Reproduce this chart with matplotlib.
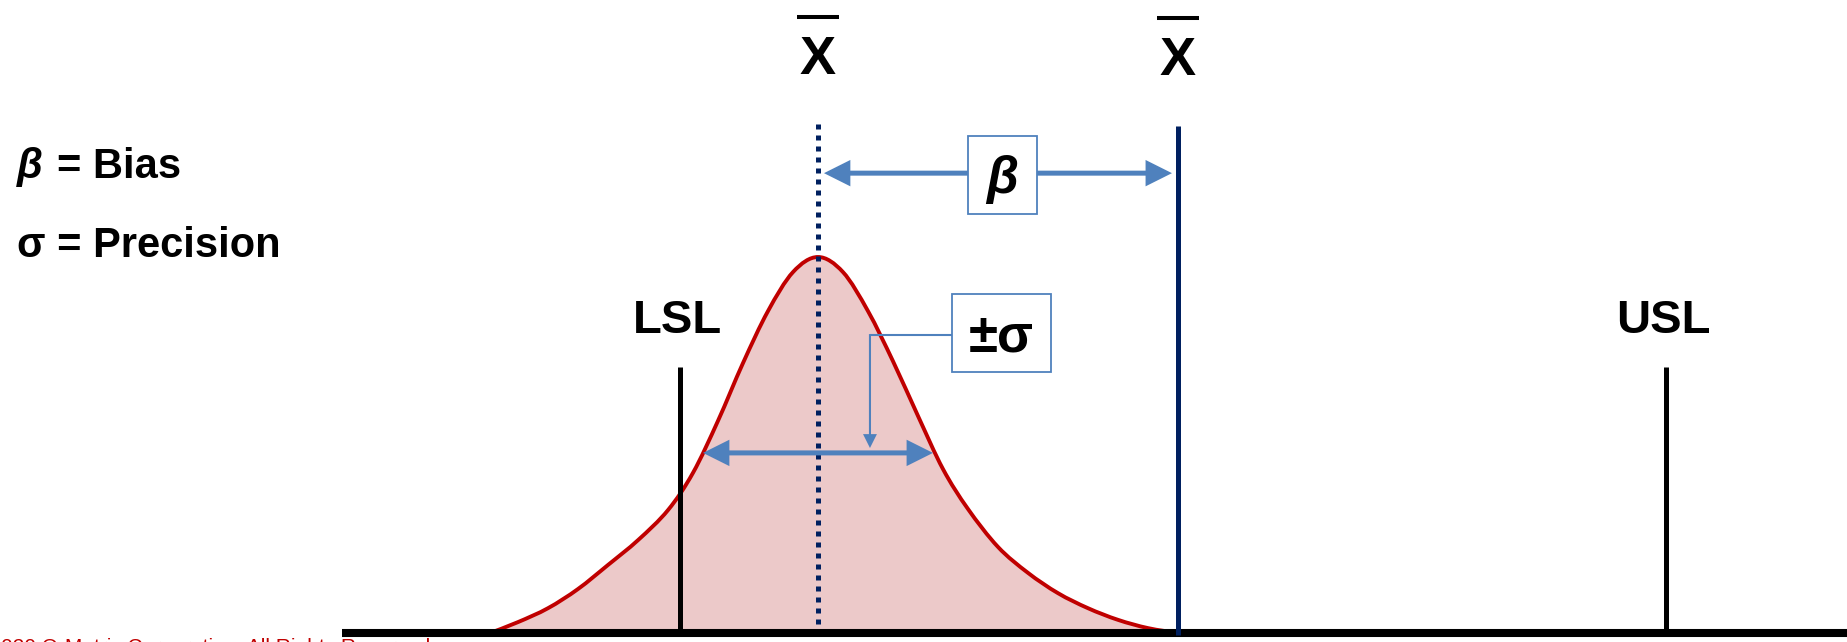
import matplotlib.pyplot as plt
from matplotlib.patches import FancyArrowPatch, Rectangle, ArrowStyle, PathPatch
from matplotlib.path import Path

plt.rcParams['font.family'] = ['Liberation Sans', 'DejaVu Sans']

curve_x = [7.148, 7.391, 7.652, 7.913, 8.174, 8.435, 8.696, 8.913, 9.130, 9.348, 9.565, 9.783,
           10.000, 10.217, 10.435, 10.652, 10.870, 11.087, 11.304, 11.565, 11.826, 12.087,
           12.348, 12.609, 12.870, 13.130]
curve_y = [0.000, 0.029, 0.066, 0.117, 0.181, 0.247, 0.327, 0.426, 0.564, 0.718, 0.856, 0.960,
           1.000, 0.960, 0.856, 0.723, 0.577, 0.436, 0.330, 0.229, 0.160, 0.106, 0.066, 0.035,
           0.013, 0.000]

mean_meas = 10.0    # measured average (dotted)
mean_ref = 13.13    # reference average (solid)
sigma = 1.0
lsl = 8.8
usl = 17.37
axis_start = 5.86

left_labels = ['β', '= Bias', 'σ = Precision']
spec_labels = ['LSL', 'USL']
copyright_txt = '©2020 Q-Metric Corporation. All Rights Reserved'

red = '#C00000'
fill_c = '#ECC9C9'
navy = '#002060'
blue = '#4F81BD'

fig = plt.figure(figsize=(18.47, 6.42), dpi=100)
ax = fig.add_axes([0, 0, 1, 1])
ax.set_xlim(2.887, 18.948)
ax.set_ylim(-0.0239, 1.6835)
ax.axis('off')

# smooth path through the read points (cubic Bezier segments)
pts = list(zip(curve_x, curve_y))
verts = [pts[0]]
codes = [Path.MOVETO]
for i in range(len(pts) - 1):
    p0 = pts[max(i - 1, 0)]
    p1 = pts[i]
    p2 = pts[i + 1]
    p3 = pts[min(i + 2, len(pts) - 1)]
    c1 = (p1[0] + (p2[0] - p0[0]) / 6, p1[1] + (p2[1] - p0[1]) / 6)
    c2 = (p2[0] - (p3[0] - p1[0]) / 6, p2[1] - (p3[1] - p1[1]) / 6)
    verts += [c1, c2, p2]
    codes += [Path.CURVE4] * 3

fill_path = Path(verts + [pts[0], pts[0]], codes + [Path.LINETO, Path.CLOSEPOLY])
ax.add_patch(PathPatch(fill_path, facecolor=fill_c, lw=0, zorder=1))
ax.add_patch(PathPatch(Path(verts, codes), facecolor='none', edgecolor=red, lw=2.8, zorder=2))

# horizontal axis
ax.plot([axis_start, 18.948], [0, 0], color='black', lw=5.8, solid_capstyle='butt', zorder=3)

# spec limits
for x, lab in zip([lsl, usl], spec_labels):
    ax.plot([x, x], [0.012, 0.707], color='black', lw=3.6, solid_capstyle='butt', zorder=3)
    ax.text(x - 0.02, 0.797, lab, ha='center', va='baseline', fontsize=34, fontweight='bold')

# averages
ax.plot([mean_meas, mean_meas], [1.354, 0.01], color=navy, lw=3.6,
        linestyle=(0, (1.0, 1.2)), dash_capstyle='butt', zorder=3)
ax.plot([mean_ref, mean_ref], [-0.005, 1.348], color=navy, lw=3.6, solid_capstyle='butt', zorder=4)
for x, yb in [(mean_meas, 1.487), (mean_ref, 1.484)]:
    ax.text(x, yb, 'X', ha='center', va='baseline', fontsize=39, fontweight='bold')
    ax.plot([x - 0.185, x + 0.185], [yb + 0.152, yb + 0.152], color='black', lw=2.9,
            solid_capstyle='butt')

big_head = ArrowStyle.Simple(head_length=19, head_width=19, tail_width=3.6)
small_head = ArrowStyle.Simple(head_length=10, head_width=10, tail_width=1.5)


def arrow(p0, p1, style):
    ax.add_patch(FancyArrowPatch(p0, p1, arrowstyle=style, mutation_scale=1,
                                 shrinkA=0, shrinkB=0, color=blue, lw=0, zorder=5))


# sigma arrow
ys = 0.479
arrow((mean_meas, ys), (mean_meas - sigma, ys), big_head)
arrow((mean_meas, ys), (mean_meas + sigma, ys), big_head)

# bias arrow with box
yb = 1.223
bx = 11.604
arrow((bx, yb), (mean_meas + 0.052, yb), big_head)
arrow((bx, yb), (mean_ref - 0.052, yb), big_head)
ax.add_patch(Rectangle((11.304, 1.114), 0.6, 0.208, facecolor='white', edgecolor=blue,
                       lw=1.3, zorder=6))
ax.text(bx, 1.205, 'β', ha='center', va='center', fontsize=37, fontweight='bold',
        fontstyle='italic', zorder=7)

# ±sigma box with leader
ax.add_patch(Rectangle((11.165, 0.694), 0.861, 0.208, facecolor='white', edgecolor=blue,
                       lw=1.3, zorder=6))
ax.text(11.595, 0.785, '±σ', ha='center', va='center', fontsize=38, fontweight='bold', zorder=7)
lead_x, lead_y = 10.452, 0.793
ax.plot([11.165, lead_x], [lead_y, lead_y], color=blue, lw=1.5, zorder=5,
        solid_capstyle='butt')
arrow((lead_x, lead_y + 0.002), (lead_x, 0.492), small_head)

# legend text on the left
ax.text(3.035, 1.210, left_labels[0], ha='left', va='baseline', fontsize=30,
        fontweight='bold', fontstyle='italic')
ax.text(3.383, 1.210, left_labels[1], ha='left', va='baseline', fontsize=30, fontweight='bold')
ax.text(3.035, 1.000, left_labels[2], ha='left', va='baseline', fontsize=30, fontweight='bold')

# footer, mostly cut off at the bottom edge (as in the original slide)
ax.text(6.626, -0.0133, copyright_txt, ha='right', va='top', fontsize=15, color=red)

fig.savefig('out.png', dpi=100)
